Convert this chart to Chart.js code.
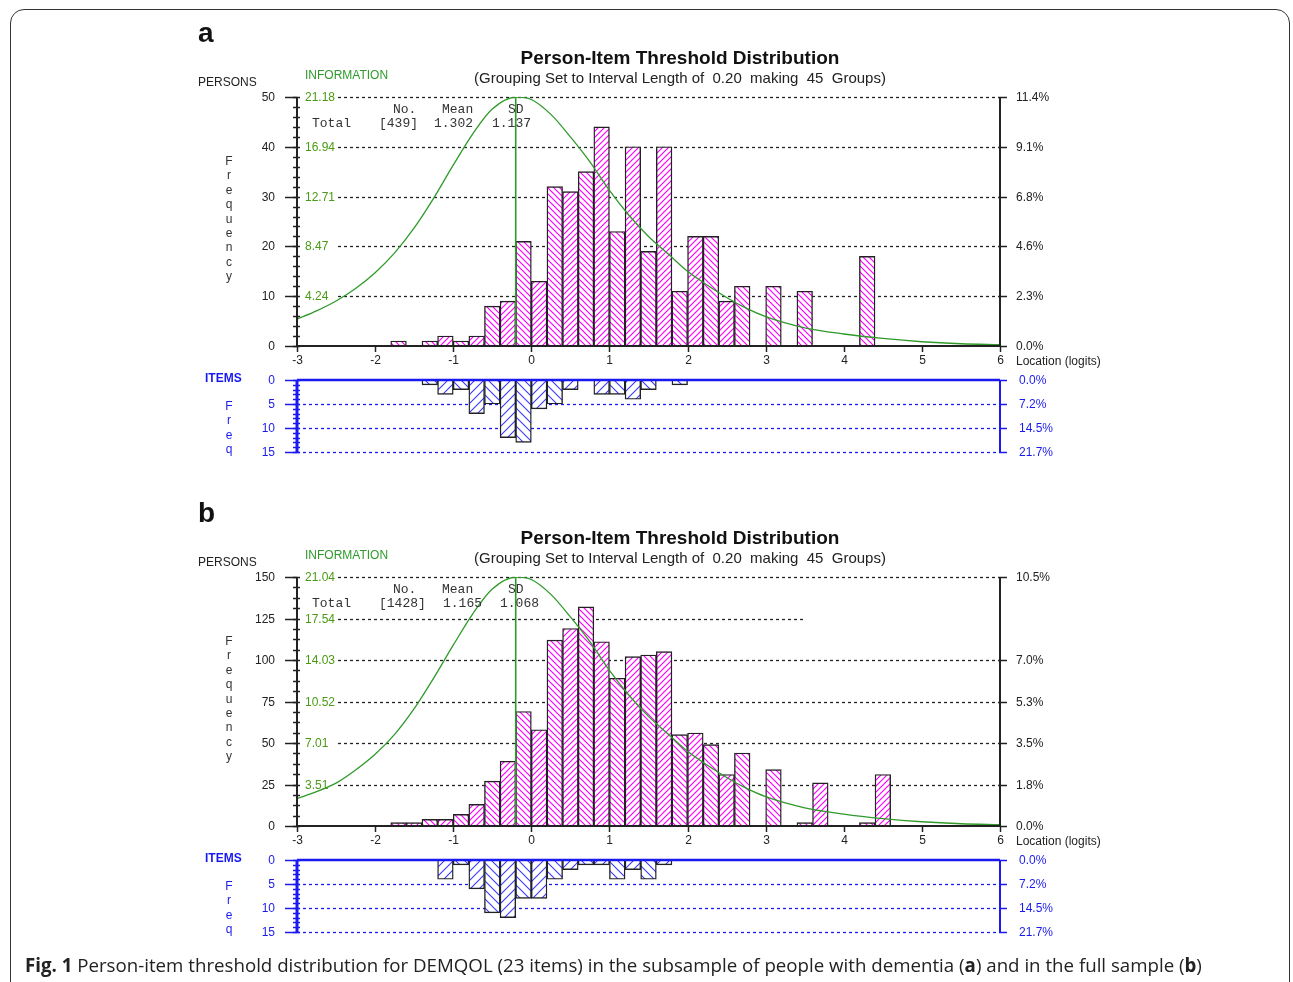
<!DOCTYPE html>
<html>
<head>
<meta charset="utf-8">
<script src="https://cdn.jsdelivr.net/npm/chart.js@4.4.1/dist/chart.umd.min.js"></script>
<style>
body { margin: 0; background: #fff; }
#page { position: relative; width: 1293px; height: 982px; overflow: hidden; font-family: "Liberation Sans", Arial, sans-serif; color: #222; }
#frame { position: absolute; left: 10px; top: 9px; width: 1278px; height: 1040px; border: 1.5px solid #333; border-radius: 14px; }
canvas { position: absolute; left: 0; top: 0; }
.t { position: absolute; white-space: pre; line-height: 1; }
.c { transform: translate(-50%, -50%); }
.l { transform: translate(0, -50%); }
.narrow { font-family: "Liberation Sans Narrow", "Liberation Sans", Arial, sans-serif; }
.mono { font-family: "Liberation Mono", "Courier New", monospace; font-size: 13px; color: #333; }
.vert { position: absolute; width: 20px; text-align: center; font-size: 12px; line-height: 14.4px; white-space: pre; }
#caption { position: absolute; left: 25px; top: 952px; font-family: "Open Sans", "Noto Sans", sans-serif; font-size: 18.7px; color: #222; white-space: pre; }
</style>
</head>
<body>
<div id="page">
  <div id="frame"></div>
  <canvas id="personsA" width="1293" height="982"></canvas>
  <canvas id="itemsA" width="1293" height="982"></canvas>
  <canvas id="personsB" width="1293" height="982"></canvas>
  <canvas id="itemsB" width="1293" height="982"></canvas>
  <div id="caption"><b>Fig. 1</b> Person-item threshold distribution for DEMQOL (23 items) in the subsample of people with dementia (<b>a</b>) and in the full sample (<b>b</b>)</div>
</div>
<script>
// grouping: 45 groups of 0.20 logits starting at -3
const binStart = -3;
const binWidth = 0.2;
const binCount = 45;

// persons per group, panel a (subsample, n=439)
const personsA = [0, 0, 0, 0, 0, 0, 1, 0, 1, 2, 1, 2, 8, 9, 21, 13, 32, 31, 35, 44, 23, 40, 19, 40, 11,
                  22, 22, 9, 12, 0, 12, 0, 11, 0, 0, 0, 18, 0, 0, 0, 0, 0, 0, 0, 0];
// item thresholds per group, panel a
const itemsA = [0, 0, 0, 0, 0, 0, 0, 0, 1, 3, 2, 7, 5, 12, 13, 6, 5, 2, 0, 3, 3, 4, 2, 0, 1,
                0, 0, 0, 0, 0, 0, 0, 0, 0, 0, 0, 0, 0, 0, 0, 0, 0, 0, 0, 0];
// persons per group, panel b (full sample, n=1428)
const personsB = [0, 0, 0, 0, 0, 0, 2, 2, 4, 4, 7, 13, 27, 39, 69, 58, 112, 119, 132, 111, 89, 102, 103, 105, 55,
                  56, 49, 31, 44, 0, 34, 0, 2, 26, 0, 0, 2, 31, 0, 0, 0, 0, 0, 0, 0];
// item thresholds per group, panel b
const itemsB = [0, 0, 0, 0, 0, 0, 0, 0, 0, 4, 1, 6, 11, 12, 8, 8, 4, 2, 1, 1, 4, 2, 4, 1, 0,
                0, 0, 0, 0, 0, 0, 0, 0, 0, 0, 0, 0, 0, 0, 0, 0, 0, 0, 0, 0];

// test information curve
const infoLogits = [-3, -2.75, -2.5, -2.25, -2, -1.75, -1.5, -1.25, -1, -0.75, -0.5, -0.19, 0, 0.25, 0.5, 0.75,
                    1, 1.25, 1.5, 1.75, 2, 2.25, 2.5, 2.75, 3, 3.5, 4, 4.5, 5, 5.5, 6];
const infoA = [2.29, 2.99, 3.83, 4.89, 6.23, 7.92, 10.04, 12.58, 15.38, 18.05, 20.16, 21.18, 20.97, 19.70, 17.79, 15.67,
               13.24, 11.12, 9.32, 7.84, 6.35, 5.19, 4.13, 3.22, 2.50, 1.55, 1.02, 0.64, 0.36, 0.19, 0.11];
const infoB = [2.31, 2.90, 3.62, 4.73, 6.06, 7.74, 9.91, 12.50, 15.28, 17.93, 20.03, 21.04, 20.83, 19.57, 17.67, 15.57,
               13.15, 11.05, 9.26, 7.78, 6.31, 5.15, 4.10, 3.20, 2.48, 1.54, 1.01, 0.63, 0.36, 0.19, 0.11];
const itemMean = -0.2;

// axis labels
const xTicks = [-3, -2, -1, 0, 1, 2, 3, 4, 5, 6];
const yTicksA = [0, 10, 20, 30, 40, 50];
const infoTicksA = ['', '4.24', '8.47', '12.71', '16.94', '21.18'];
const pctTicksA = ['0.0%', '2.3%', '4.6%', '6.8%', '9.1%', '11.4%'];
const yTicksB = [0, 25, 50, 75, 100, 125, 150];
const infoTicksB = ['', '3.51', '7.01', '10.52', '14.03', '17.54', '21.04'];
const pctTicksB = ['0.0%', '1.8%', '3.5%', '5.3%', '7.0%', '', '10.5%'];
const itemTicks = [0, 5, 10, 15];
const itemPctTicks = ['0.0%', '7.2%', '14.5%', '21.7%'];

const GREEN = '#2f9a2a';
const GREEN_TXT = '#4a9a14';
const BLUE = '#1a1af0';
const INK = '#222';
const FONT = '12px "Liberation Sans", Arial, sans-serif';

function hatch(color, size, dir, lw) {
  const c = document.createElement('canvas');
  c.width = size; c.height = size;
  const g = c.getContext('2d');
  g.fillStyle = '#fff';
  g.fillRect(0, 0, size, size);
  g.strokeStyle = color;
  g.lineWidth = lw;
  g.beginPath();
  if (dir > 0) {
    g.moveTo(-1, size + 1); g.lineTo(size + 1, -1);
    g.moveTo(-2, 2); g.lineTo(2, -2);
    g.moveTo(size - 2, size + 2); g.lineTo(size + 2, size - 2);
  } else {
    g.moveTo(-1, -1); g.lineTo(size + 1, size + 1);
    g.moveTo(size - 2, -2); g.lineTo(size + 2, 2);
    g.moveTo(-2, size - 2); g.lineTo(2, size + 2);
  }
  g.stroke();
  return g.createPattern(c, 'repeat');
}

const pinkHatch = [hatch('#ff00ff', 6, -1, 1.2), hatch('#ff00ff', 6, 1, 1.2)];
const blueHatch = [hatch('#3a3aff', 9, -1, 1.1), hatch('#3a3aff', 9, 1, 1.1)];

function binPoints(counts) {
  return counts.map((v, i) => ({ x: binStart + binWidth * (i + 0.5), y: v }));
}

function line(ctx, x1, y1, x2, y2) {
  ctx.beginPath(); ctx.moveTo(x1, y1); ctx.lineTo(x2, y2); ctx.stroke();
}

const raschPlugin = {
  id: 'rasch',
  beforeDatasetsDraw(chart, args, o) {
    const ctx = chart.ctx, a = chart.chartArea, y = chart.scales.y, x = chart.scales.x;
    ctx.save();
    ctx.setLineDash([3, 3]);
    ctx.lineWidth = 1.3;
    if (o.kind === 'persons') {
      ctx.strokeStyle = INK;
      o.ticks.forEach((v, i) => {
        if (v === 0) return;
        const py = Math.round(y.getPixelForValue(v)) + 0.5;
        const end = o.gridEnd[i] != null ? x.getPixelForValue(o.gridEnd[i]) : a.right;
        line(ctx, a.left + 41, py, end, py);
      });
    } else {
      ctx.strokeStyle = BLUE;
      o.ticks.forEach(v => {
        if (v === 0) return;
        const py = Math.round(y.getPixelForValue(v)) + 0.5;
        line(ctx, a.left, py, a.right, py);
      });
    }
    ctx.restore();
  },
  afterDatasetsDraw(chart, args, o) {
    const ctx = chart.ctx, a = chart.chartArea, y = chart.scales.y, x = chart.scales.x;
    const col = o.kind === 'persons' ? INK : BLUE;
    ctx.save();
    ctx.strokeStyle = col;
    ctx.fillStyle = col;
    ctx.font = FONT;
    ctx.textBaseline = 'middle';
    // axis lines
    ctx.lineWidth = o.kind === 'persons' ? 2 : 3;
    line(ctx, a.left, a.top, a.left, a.bottom + 1);
    ctx.lineWidth = 2;
    line(ctx, a.right, a.top, a.right, a.bottom + 1);
    if (o.kind === 'persons') {
      line(ctx, a.left, a.bottom, a.right, a.bottom);
    } else {
      ctx.lineWidth = 2.5;
      line(ctx, a.left, a.top, a.right, a.top);
    }
    // minor ticks
    ctx.lineWidth = 1.5;
    const maxV = o.ticks[o.ticks.length - 1];
    for (let v = 0; v <= maxV + 1e-9; v += o.minor) {
      const py = Math.round(y.getPixelForValue(v)) + 0.5;
      line(ctx, a.left - 4, py, a.left + 3, py);
    }
    // major ticks and labels
    o.ticks.forEach((v, i) => {
      const py = Math.round(y.getPixelForValue(v)) + 0.5;
      ctx.lineWidth = 1.5;
      ctx.strokeStyle = col;
      line(ctx, a.left - 12, py, a.left, py);
      ctx.textAlign = 'right';
      ctx.fillStyle = col;
      ctx.fillText(String(v), a.left - 22, py);
      if (o.right[i]) {
        line(ctx, a.right, py, a.right + 7, py);
        ctx.textAlign = 'left';
        ctx.fillText(o.right[i], a.right + (o.kind === 'persons' ? 16 : 19), py);
      }
      if (o.info && o.info[i]) {
        ctx.fillStyle = GREEN_TXT;
        ctx.textAlign = 'left';
        ctx.fillText(o.info[i], a.left + 8, py);
      }
    });
    // logit axis
    if (o.kind === 'persons') {
      ctx.fillStyle = INK;
      ctx.strokeStyle = INK;
      ctx.textAlign = 'center';
      xTicks.forEach(t => {
        const px = Math.round(x.getPixelForValue(t)) + 0.5;
        ctx.lineWidth = 1.5;
        line(ctx, px, a.bottom, px, a.bottom + 6);
        ctx.fillText(String(t), px, a.bottom + 15);
      });
    }
    ctx.restore();
  }
};

function personsChart(id, counts, info, yMax, infoMax, ticks, infoLabels, pct, minor, gridEnd, top, bottom) {
  new Chart(document.getElementById(id), {
    type: 'bar',
    data: {
      datasets: [
        {
          type: 'line', label: 'mean', order: 0,
          data: [{ x: itemMean, y: 0 }, { x: itemMean, y: yMax }],
          borderColor: GREEN, borderWidth: 1.6, pointRadius: 0
        },
        {
          type: 'line', label: 'information', order: 0, yAxisID: 'info',
          data: infoLogits.map((l, i) => ({ x: l, y: info[i] })),
          borderColor: GREEN, borderWidth: 1.3, pointRadius: 0, cubicInterpolationMode: 'monotone'
        },
        {
          label: 'persons', order: 1,
          data: binPoints(counts),
          backgroundColor: counts.map((v, i) => pinkHatch[i % 2]),
          borderColor: INK, borderWidth: 1.4, borderSkipped: false,
          barPercentage: 1, categoryPercentage: 1
        }
      ]
    },
    options: {
      responsive: false, animation: false, events: [],
      layout: { padding: { left: 297, right: 293, top: top, bottom: 982 - bottom } },
      scales: {
        x: { type: 'linear', min: -3, max: 6, offset: false, display: false },
        y: { min: 0, max: yMax, display: false },
        info: { min: 0, max: infoMax, display: false }
      },
      plugins: {
        legend: { display: false }, tooltip: { enabled: false },
        rasch: { kind: 'persons', ticks: ticks, info: infoLabels, right: pct, minor: minor, gridEnd: gridEnd }
      }
    },
    plugins: [raschPlugin]
  });
}

function itemsChart(id, counts, top, bottom) {
  new Chart(document.getElementById(id), {
    type: 'bar',
    data: {
      datasets: [{
        label: 'items',
        data: binPoints(counts),
        backgroundColor: counts.map((v, i) => blueHatch[i % 2]),
        borderColor: INK, borderWidth: 1.4, borderSkipped: false,
        barPercentage: 1, categoryPercentage: 1
      }]
    },
    options: {
      responsive: false, animation: false, events: [],
      layout: { padding: { left: 297, right: 293, top: top, bottom: 982 - bottom } },
      scales: {
        x: { type: 'linear', min: -3, max: 6, offset: false, display: false },
        y: { min: 0, max: 15, reverse: true, display: false }
      },
      plugins: {
        legend: { display: false }, tooltip: { enabled: false },
        rasch: { kind: 'items', ticks: itemTicks, right: itemPctTicks, minor: 1 }
      }
    },
    plugins: [raschPlugin]
  });
}

personsChart('personsA', personsA, infoA, 50, 21.18, yTicksA, infoTicksA, pctTicksA, 2, [], 97, 346);
itemsChart('itemsA', itemsA, 380, 452);
personsChart('personsB', personsB, infoB, 150, 21.04, yTicksB, infoTicksB, pctTicksB, 6.25,
             [null, null, null, null, null, 3.5, null], 577, 826);
itemsChart('itemsB', itemsB, 860, 932);

// panel texts
const page = document.getElementById('page');
function txt(s, x, y, cls, style) {
  const d = document.createElement('div');
  d.className = 't ' + cls;
  d.textContent = s;
  d.style.left = x + 'px';
  d.style.top = y + 'px';
  Object.assign(d.style, style || {});
  page.appendChild(d);
}
function vert(s, x, y, color) {
  const d = document.createElement('div');
  d.className = 'vert';
  d.textContent = s.split('').join('\n');
  d.style.left = (x - 10) + 'px';
  d.style.top = y + 'px';
  d.style.color = color;
  page.appendChild(d);
}
const panels = [
  { tag: 'a', dy: 0, stats: ['[439]', '1.302', '1.137'], statX: [379, 434, 492] },
  { tag: 'b', dy: 480, stats: ['[1428]', '1.165', '1.068'], statX: [379, 443, 500] }
];
panels.forEach(p => {
  const dy = p.dy;
  txt(p.tag, 198, 33 + dy, 'l', { fontSize: '28px', fontWeight: 'bold', color: '#111' });
  txt('Person-Item Threshold Distribution', 680, 57 + dy, 'c', { fontSize: '19px', fontWeight: 'bold', color: '#111' });
  txt('(Grouping Set to Interval Length of  0.20  making  45  Groups)', 680, 77 + dy, 'c', { fontSize: '15px', color: '#222' });
  txt('PERSONS', 198, 82 + dy, 'l', { fontSize: '12px' });
  txt('INFORMATION', 305, 75 + dy, 'l narrow', { fontSize: '12px', color: GREEN });
  txt('No.', 393, 109 + dy, 'l mono');
  txt('Mean', 442, 109 + dy, 'l mono');
  txt('SD', 508, 109 + dy, 'l mono');
  txt('Total', 312, 123 + dy, 'l mono');
  p.stats.forEach((s, i) => txt(s, p.statX[i], 123 + dy, 'l mono'));
  txt('Location (logits)', 1016, 361 + dy, 'l', { fontSize: '12px' });
  txt('ITEMS', 205, 378 + dy, 'l narrow', { fontSize: '12px', color: BLUE, fontWeight: 'bold' });
  vert('Frequency', 229, 154 + dy, '#333');
  vert('Freq', 229, 399 + dy, BLUE);
});
</script>
</body>
</html>
